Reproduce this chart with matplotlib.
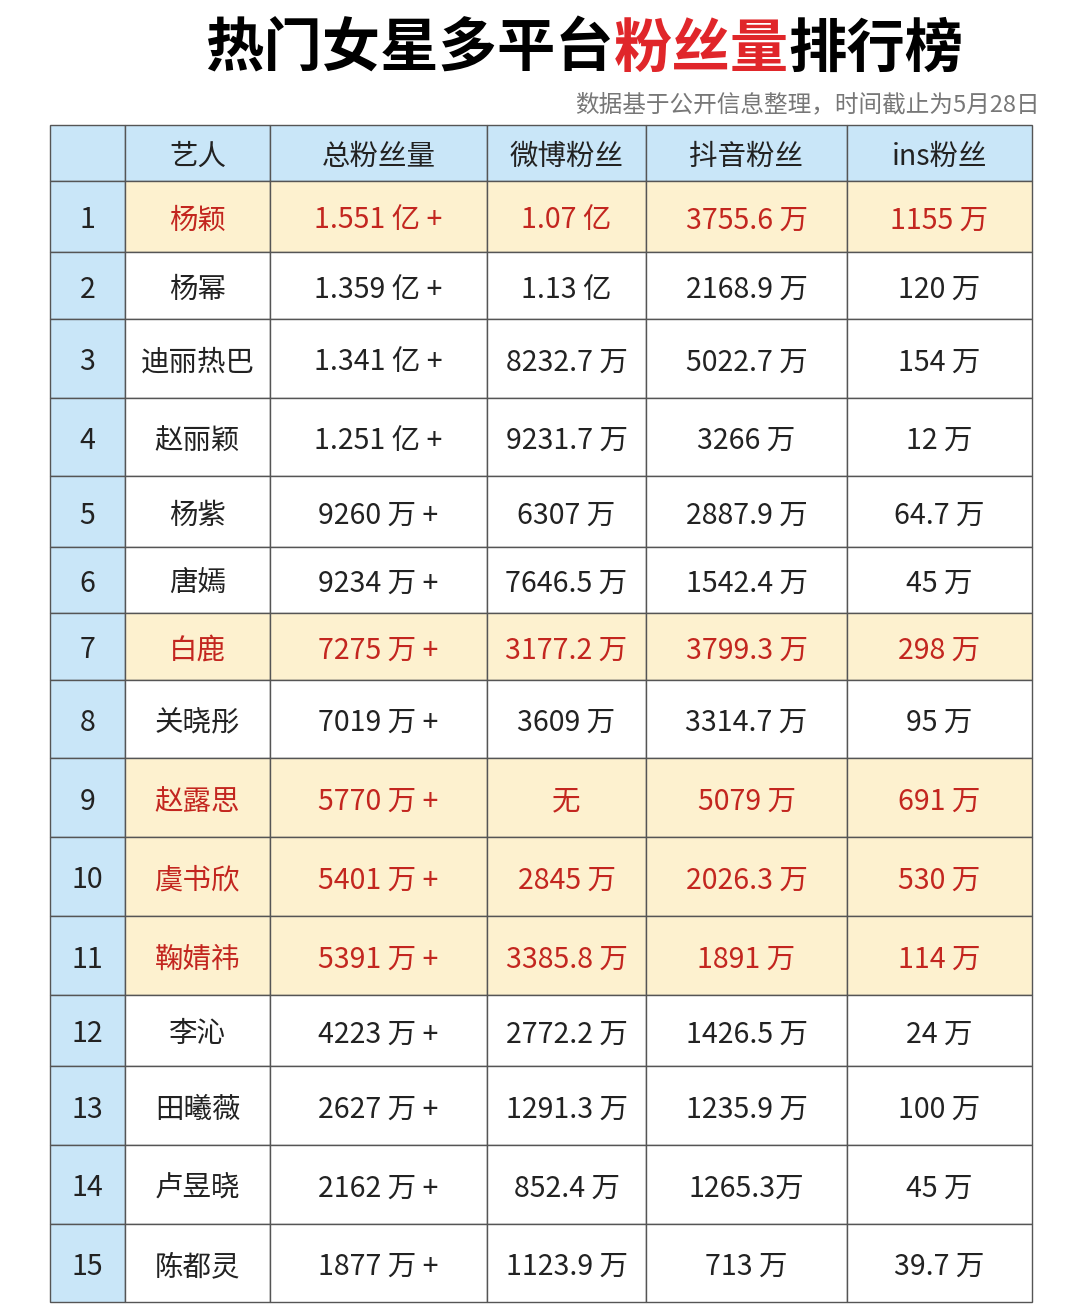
import matplotlib
matplotlib.use('Agg')
import matplotlib.pyplot as plt
from matplotlib.patches import Rectangle

plt.rcParams['font.family'] = ['Noto Sans CJK SC', 'DejaVu Sans']

headers = ['', '艺人', '总粉丝量', '微博粉丝', '抖音粉丝', 'ins粉丝']
ranks = [str(i) for i in range(1, 16)]
names = ['杨颖', '杨幂', '迪丽热巴', '赵丽颖', '杨紫', '唐嫣', '白鹿', '关晓彤', '赵露思', '虞书欣', '鞠婧祎', '李沁', '田曦薇', '卢昱晓', '陈都灵']
total = ['1.551 亿 +', '1.359 亿 +', '1.341 亿 +', '1.251 亿 +', '9260 万 +', '9234 万 +', '7275 万 +', '7019 万 +', '5770 万 +', '5401 万 +', '5391 万 +', '4223 万 +', '2627 万 +', '2162 万 +', '1877 万 +']
weibo = ['1.07 亿', '1.13 亿', '8232.7 万', '9231.7 万', '6307 万', '7646.5 万', '3177.2 万', '3609 万', '无', '2845 万', '3385.8 万', '2772.2 万', '1291.3 万', '852.4 万', '1123.9 万']
douyin = ['3755.6 万', '2168.9 万', '5022.7 万', '3266 万', '2887.9 万', '1542.4 万', '3799.3 万', '3314.7 万', '5079 万', '2026.3 万', '1891 万', '1426.5 万', '1235.9 万', '1265.3万', '713 万']
ins = ['1155 万', '120 万', '154 万', '12 万', '64.7 万', '45 万', '298 万', '95 万', '691 万', '530 万', '114 万', '24 万', '100 万', '45 万', '39.7 万']
highlight = [1, 7, 9, 10, 11]

col_x = [50, 125, 270, 487, 646, 847, 1032]
row_y = [125, 181, 252, 319, 398, 476, 547, 613, 680, 758, 837, 916, 995, 1066, 1145, 1224, 1302]

BLUE = '#c9e6f8'
CREAM = '#fdf1cf'
RED = '#c3261f'
DARK = '#222222'

fig = plt.figure(figsize=(10.8, 13.04), dpi=100)
ax = fig.add_axes([0, 0, 1, 1])
ax.set_xlim(0, 1080); ax.set_ylim(1304, 0); ax.axis('off')

tfs = 42
parts = [('热门女星多平台', 'black'), ('粉丝量', '#e0262a'), ('排行榜', 'black')]
fig.canvas.draw()
r = fig.canvas.get_renderer()
x = 205
for txt, c in parts:
    tt = ax.text(x, 50, txt, fontsize=tfs, fontweight='bold', color=c, va='center', ha='left')
    fig.canvas.draw()
    bb = tt.get_window_extent(renderer=r)
    x += bb.width
ax.text(1040, 105, '数据基于公开信息整理，时间截止为5月28日', fontsize=17, color='#777777', ha='right', va='center')

cols = [ranks, names, total, weibo, douyin, ins]
nrows = len(names)
for ri in range(-1, nrows):
    y0, y1 = row_y[ri + 1], row_y[ri + 2]
    for ci in range(6):
        x0, x1 = col_x[ci], col_x[ci + 1]
        if ri == -1 or ci == 0:
            fc = BLUE
        elif (ri + 1) in highlight:
            fc = CREAM
        else:
            fc = 'white'
        ax.add_patch(Rectangle((x0, y0), x1 - x0, y1 - y0, facecolor=fc, edgecolor='#555555', lw=1.0))
        if ri == -1:
            s = headers[ci]; color = DARK
        else:
            s = cols[ci][ri]
            color = RED if ((ri + 1) in highlight and ci > 0) else DARK
        ax.text((x0 + x1) / 2, (y0 + y1) / 2 + 4, s, fontsize=20.5, color=color, ha='center', va='center')

fig.savefig('out.png', dpi=100)
